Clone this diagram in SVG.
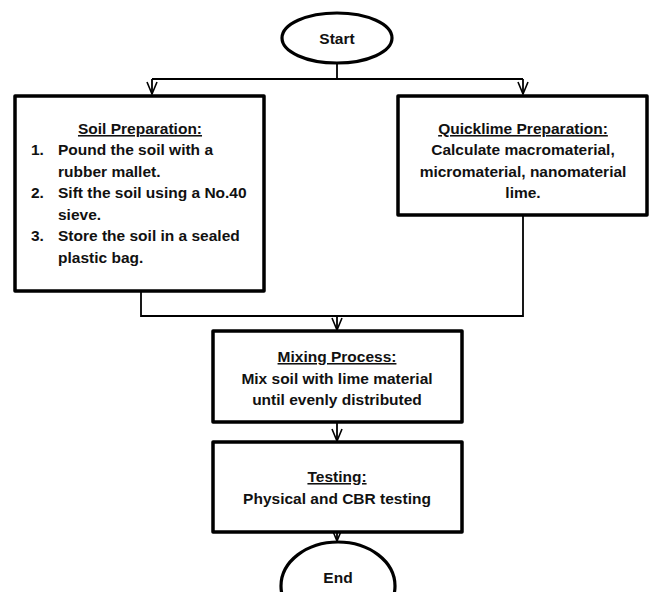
<svg xmlns="http://www.w3.org/2000/svg" width="649" height="592" viewBox="0 0 649 592">
<style>
.box{fill:#fff;stroke:#000;stroke-width:3.5;stroke-linejoin:round}
.term{fill:#fff;stroke:#000;stroke-width:3.2}
.conn{fill:none;stroke:#000;stroke-width:1.8}
text{font-family:"Liberation Sans",Arial,sans-serif;font-weight:bold;font-size:15.5px;fill:#111}
.h{text-decoration:underline}
.c{text-anchor:middle}
</style>
<defs>
<marker id="v" markerUnits="userSpaceOnUse" markerWidth="14" markerHeight="12" viewBox="0 0 14 12" refX="13" refY="6" orient="auto">
<path d="M1,1 L13,6 L1,11" fill="none" stroke="#000" stroke-width="1.6"/>
</marker>
</defs>
<rect width="649" height="592" fill="#fff"/>
<g id="connectors">
<path class="conn" d="M337,63 V79"/>
<path class="conn" d="M152,79 H523"/>
<path class="conn" d="M152,79 V94" marker-end="url(#v)"/>
<path class="conn" d="M523,79 V94" marker-end="url(#v)"/>
<path class="conn" d="M141,292 V316 H523 V216"/>
<path class="conn" d="M337,316 V330" marker-end="url(#v)"/>
<path class="conn" d="M337,423 V441" marker-end="url(#v)"/>
<path class="conn" d="M337,533 V541" marker-end="url(#v)"/>
</g>
<g id="start">
<ellipse class="term" cx="337" cy="38" rx="55" ry="25"/>
<text class="c" x="337" y="43.5">Start</text>
</g>
<g id="soil">
<rect class="box" x="15" y="96" width="249" height="195"/>
<text class="c h" x="140" y="134">Soil Preparation:</text>
<text x="31" y="155">1.</text><text x="58" y="155">Pound the soil with a</text>
<text x="58" y="176.5">rubber mallet.</text>
<text x="31" y="198">2.</text><text x="58" y="198">Sift the soil using a No.40</text>
<text x="58" y="219.5">sieve.</text>
<text x="31" y="241">3.</text><text x="58" y="241">Store the soil in a sealed</text>
<text x="58" y="262.5">plastic bag.</text>
</g>
<g id="quicklime">
<rect class="box" x="398" y="96" width="249" height="119"/>
<text class="c h" x="523" y="134">Quicklime Preparation:</text>
<text class="c" x="523" y="155">Calculate macromaterial,</text>
<text class="c" x="523" y="176.5">micromaterial, nanomaterial</text>
<text class="c" x="523" y="198">lime.</text>
</g>
<g id="mixing">
<rect class="box" x="213" y="331" width="249" height="91"/>
<text class="c h" x="337" y="362">Mixing Process:</text>
<text class="c" x="337" y="383.5">Mix soil with lime material</text>
<text class="c" x="337" y="405">until evenly distributed</text>
</g>
<g id="testing">
<rect class="box" x="213" y="442" width="249" height="90"/>
<text class="c h" x="337" y="482">Testing:</text>
<text class="c" x="337" y="503.5">Physical and CBR testing</text>
</g>
<g id="end">
<ellipse class="term" cx="338" cy="586" rx="57" ry="44"/>
<text class="c" x="338" y="583">End</text>
</g>
</svg>
